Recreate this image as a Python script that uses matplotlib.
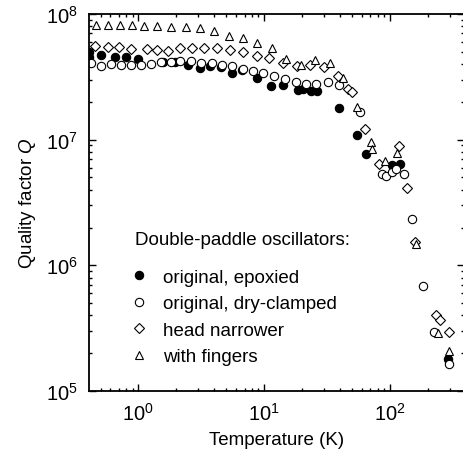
import matplotlib
matplotlib.use("Agg")
import matplotlib.pyplot as plt

plt.rcParams['font.family'] = ['Liberation Sans', 'DejaVu Sans']
plt.rcParams['mathtext.fontset'] = 'custom'
plt.rcParams['mathtext.rm'] = 'Liberation Sans'
plt.rcParams['mathtext.it'] = 'Liberation Sans:italic'

# original, epoxied (filled circles)
t_epox = [0.408, 0.408, 0.506, 0.653, 0.798, 1.0, 1.56, 1.96, 2.47, 3.09, 3.71, 4.54,
          5.52, 6.72, 8.81, 11.4, 14.2, 18.7, 20.2, 23.5, 26.5, 39.6, 54.3, 64.4,
          104.5, 120, 287]
q_epox = [4.99e7, 4.51e7, 4.72e7, 4.57e7, 4.57e7, 4.36e7, 4.17e7, 4.17e7, 3.94e7, 3.72e7,
          3.88e7, 3.81e7, 3.37e7, 3.60e7, 3.08e7, 2.65e7, 2.72e7, 2.50e7, 2.53e7, 2.43e7,
          2.43e7, 1.80e7, 1.08e7, 7.69e6, 6.29e6, 6.40e6, 1.80e5]

# original, dry-clamped (open circles)
t_dry = [0.419, 0.504, 0.605, 0.726, 0.872, 1.047, 1.257, 1.50, 1.81, 2.16, 2.61, 3.12,
         3.83, 4.60, 5.58, 6.85, 8.19, 9.84, 12.0, 14.6, 17.8, 21.4, 25.9, 32.1, 39.6,
         57.7, 85.7, 93.6, 103.5, 112.4, 128.3, 148.6, 181.6, 222, 294]
q_dry = [4.07e7, 3.88e7, 4.00e7, 3.93e7, 3.96e7, 3.94e7, 4.02e7, 4.15e7, 4.17e7, 4.20e7,
         4.20e7, 4.07e7, 4.07e7, 3.95e7, 3.88e7, 3.62e7, 3.55e7, 3.39e7, 3.23e7, 3.04e7,
         2.89e7, 2.77e7, 2.79e7, 2.89e7, 2.74e7, 1.65e7, 5.33e6, 5.17e6, 5.50e6, 5.79e6,
         5.33e6, 2.35e6, 6.85e5, 2.96e5, 1.63e5]

# head narrower (diamonds)
t_head = [0.449, 0.571, 0.706, 0.875, 1.166, 1.40, 1.73, 2.14, 2.69, 3.32, 4.24, 5.32,
          6.75, 8.81, 11.0, 14.0, 18.1, 23.0, 29.9, 38.4, 46.6, 49.5, 63.2, 82.1, 118,
          135.5, 158, 234.5, 248, 294]
q_head = [5.61e7, 5.49e7, 5.49e7, 5.27e7, 5.27e7, 5.20e7, 5.11e7, 5.33e7, 5.39e7, 5.36e7,
          5.33e7, 5.17e7, 5.01e7, 4.66e7, 4.45e7, 4.06e7, 3.88e7, 3.93e7, 3.82e7, 3.23e7,
          2.51e7, 2.39e7, 1.21e7, 6.46e6, 8.83e6, 4.10e6, 1.53e6, 4.00e5, 3.64e5, 2.93e5]

# with fingers (triangles)
t_fing = [0.461, 0.578, 0.716, 0.886, 1.116, 1.40, 1.82, 2.38, 3.09, 3.99, 5.25, 6.82,
          8.81, 11.5, 15.0, 19.5, 25.3, 33.3, 42.7, 54.3, 70.5, 72.5, 91.9, 114, 161,
          241.5, 294]
q_fing = [8.22e7, 8.22e7, 8.22e7, 8.22e7, 8.07e7, 8.07e7, 7.92e7, 7.92e7, 7.78e7, 7.28e7,
          6.72e7, 6.41e7, 5.85e7, 5.34e7, 4.38e7, 3.96e7, 4.28e7, 4.05e7, 3.07e7, 1.81e7,
          9.58e6, 8.43e6, 6.77e6, 7.83e6, 1.48e6, 2.88e5, 2.08e5]

fs = 13.5

fig = plt.figure(figsize=(4.63, 4.52), dpi=100)
ax = fig.add_axes([89 / 463, 1 - 392 / 452, 375 / 463, 377 / 452])

ms = 6.0
mew = 0.8
ax.plot(t_epox, q_epox, 'o', ms=ms, mfc='black', mec='black', mew=mew,
        label='original, epoxied')
ax.plot(t_dry, q_dry, 'o', ms=ms, mfc='white', mec='black', mew=mew,
        label='original, dry-clamped')
ax.plot(t_head, q_head, 'D', ms=4.7, mfc='white', mec='black', mew=mew,
        label='head narrower')
ax.plot(t_fing, q_fing, '^', ms=6.3, mfc='white', mec='black', mew=mew,
        label='with fingers')

ax.set_xscale('log')
ax.set_yscale('log')
ax.set_xlim(0.405, 388)
ax.set_ylim(1e5, 1e8)

for s in ax.spines.values():
    s.set_linewidth(1.3)
ax.tick_params(which='both', direction='in', top=True, right=True, labelsize=14.5, width=1)
ax.tick_params(which='major', length=5, pad=8)
ax.tick_params(which='minor', length=2.5)

ax.set_xlabel('Temperature (K)', fontsize=fs, labelpad=5)
ax.set_ylabel('Quality factor $\\mathit{Q}$', fontsize=fs, labelpad=6)

ax.text(0.1227, 0.401, 'Double-paddle oscillators:', transform=ax.transAxes,
        fontsize=fs, ha='left', va='center')
ax.legend(loc='upper left', bbox_to_anchor=(0.116, 0.324), frameon=False,
          fontsize=fs, numpoints=1, handlelength=0.7, handletextpad=0.93,
          labelspacing=0.5, borderpad=0, borderaxespad=0)

fig.savefig('out.png', dpi=100)
